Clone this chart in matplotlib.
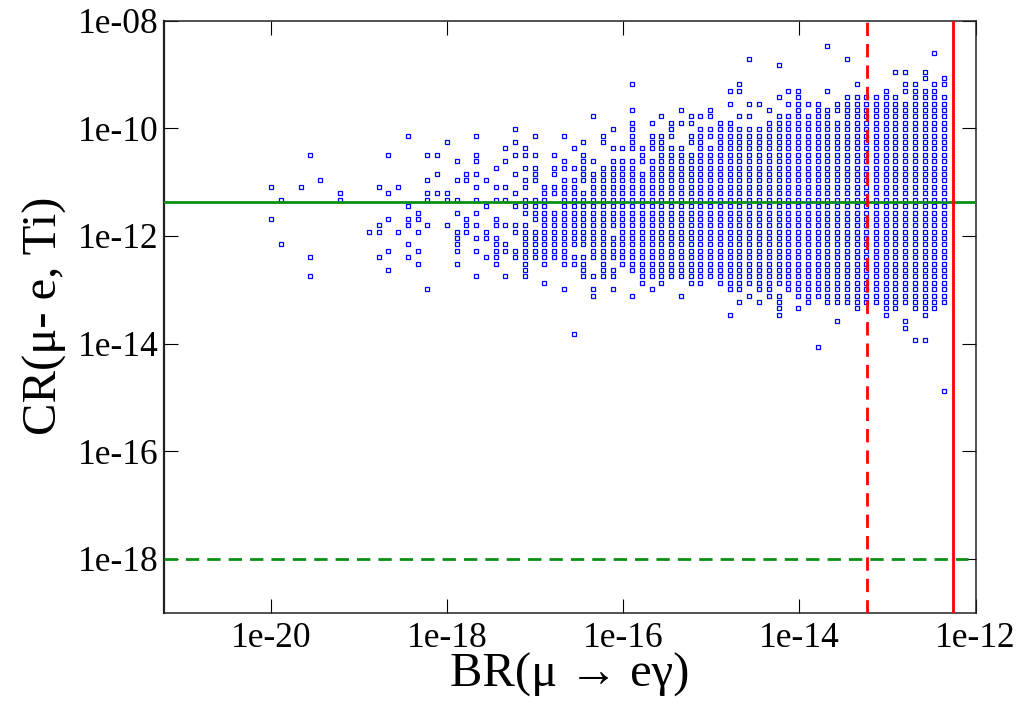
# -*- coding: utf-8 -*-
import matplotlib
matplotlib.use('Agg')
import matplotlib.pyplot as plt
from matplotlib.ticker import FixedLocator, FixedFormatter, NullLocator

plt.rcParams['font.family'] = ['Liberation Serif', 'DejaVu Serif']

# log10 of the BR(mu -> e gamma) columns the scan points fall in
br_exp = [-20.000, -19.889, -19.778, -19.668, -19.557, -19.446, -19.335, -19.224, -19.114, -19.003,
          -18.892, -18.781, -18.670, -18.560, -18.449, -18.338, -18.227, -18.116, -18.006, -17.895,
          -17.784, -17.673, -17.562, -17.452, -17.341, -17.230, -17.119, -17.008, -16.898, -16.787,
          -16.676, -16.565, -16.454, -16.344, -16.233, -16.122, -16.011, -15.900, -15.790, -15.679,
          -15.568, -15.457, -15.346, -15.236, -15.125, -15.014, -14.903, -14.792, -14.682, -14.571,
          -14.460, -14.349, -14.238, -14.128, -14.017, -13.906, -13.795, -13.684, -13.574, -13.463,
          -13.352, -13.241, -13.130, -13.020, -12.909, -12.798, -12.687, -12.576, -12.466, -12.355]

# log10 of CR(mu-e, Ti) for each row, paired with the columns hit in that row
cr_exp = [-8.472, -8.591, -8.710, -8.829, -8.947, -9.066, -9.185, -9.304, -9.423, -9.542,
          -9.660, -9.779, -9.898, -10.017, -10.136, -10.255, -10.373, -10.492, -10.611, -10.730,
          -10.849, -10.968, -11.086, -11.205, -11.326, -11.445, -11.564, -11.682, -11.801, -11.920,
          -12.039, -12.158, -12.277, -12.395, -12.514, -12.633, -12.752, -12.871, -12.990, -13.108,
          -13.227, -13.346, -13.465, -13.584, -13.703, -13.821, -13.940, -14.059, -14.876]

hits = ["57", "68", "49,59", "52", "64,65,67", "67,69", "37,48,60,65,66,68,69",
        "47,48,53,54,57,63,65-68", "52,54,59-64,66-69", "47,49,50,53-56,58-69",
        "37,42,45,51,54,56-69", "33,40,43,44,45,48,49,52-57,59-69",
        "37,39,41,42,43,46,47,51-69", "25,35,37,41,44-69",
        "14,21,27,30,34,37,39-41,43-69", "18,25,32,34,37,39,40,43,44,46-69",
        "24,26,31,35-42,44-69", "4,12,16,17,21,25-27,29,32,38,40-69",
        "19,21,24,30,32,33,35-69", "23,26,27,29-32,34-37,39-69",
        "17,20,21,25,27,29,32-69", "5,16,19,20,22,26,27,30-69",
        "0,3,11,13,21,23,24,26,28-31,33-69", "7,12,16,17,18,25,28-69",
        "1,7,16,18,19,21,23,24,26-28,30-69", "14,22,25-28,30-69",
        "15,19,21,26-69", "0,12,14,15,20,23,27-69",
        "11,14,16,18,20,21,23-26,28-69", "10,11,13,15,19,20,22,25-34,36-69",
        "19,21-23,26-69", "1,14,19,23,24,26-69",
        "12,15,19,21,23-30,33-69", "4,11,14,22,23,25-69",
        "15,19,23,26,28,30-32,34,36-69", "12,26,32,34,35,37-69",
        "4,21,24,26,32-35,38-69", "28,38,40,43,44,46-69",
        "16,30,33,35,39,47,48,50,51,53-69", "33,37,42,49,51,52,54-69",
        "48,50,52,55,57-69", "52,54,60,63,64,66,67,68", "47,52,63,67",
        "58,65", "65", "31", "66,67", "56", "69"]

xticks = [1e-20, 1e-18, 1e-16, 1e-14, 1e-12]
xtick_labels = ['1e-20', '1e-18', '1e-16', '1e-14', '1e-12']
yticks = [1e-18, 1e-16, 1e-14, 1e-12, 1e-10, 1e-8]
ytick_labels = ['1e-18', '1e-16', '1e-14', '1e-12', '1e-10', '1e-08']

# experimental limits
br_now = 5.6e-13
br_future = 5.9e-14
cr_now = 4.3e-12
cr_future = 1e-18


def columns(text):
    out = []
    for part in text.split(','):
        if '-' in part:
            a, b = part.split('-')
            out.extend(range(int(a), int(b) + 1))
        else:
            out.append(int(part))
    return out


xs = []
ys = []
for row, text in zip(cr_exp, hits):
    for c in columns(text):
        xs.append(10 ** br_exp[c])
        ys.append(10 ** row)

W, H = 1024, 702
fig = plt.figure(figsize=(W / 100, H / 100), dpi=100)
ax = fig.add_axes([164 / W, 1 - 612.7 / H, (975.5 - 164) / W, (612.7 - 20.7) / H])
ax.set_xscale('log')
ax.set_yscale('log')
ax.set_xlim(10 ** -21.22, 1e-12)
ax.set_ylim(1e-19, 1e-8)

ax.plot(xs, ys, ls='none', marker='s', ms=2.9, mew=0.9, mfc='none', mec='#0000ff', zorder=2)

ax.axhline(cr_now, color='#0b8f14', lw=2.0, zorder=3)
ax.plot([10 ** -21.22, 10 ** -12.09], [cr_future, cr_future], color='#0b8f14', lw=2.0,
        dashes=(4.8, 2.9), zorder=3)
ax.axvline(br_future, color='#ff0000', lw=2.0, dashes=(4.8, 2.9), zorder=4)
ax.axvline(br_now, color='#ff0000', lw=2.0, zorder=4)

for axis, ticks, labels in ((ax.xaxis, xticks, xtick_labels), (ax.yaxis, yticks, ytick_labels)):
    axis.set_major_locator(FixedLocator(ticks))
    axis.set_major_formatter(FixedFormatter(labels))
    axis.set_minor_locator(NullLocator())

ax.tick_params(which='major', direction='in', length=10, width=0.8, color='black',
               top=True, right=True, labelsize=25.5)
ax.tick_params(axis='x', pad=7)
ax.tick_params(axis='y', pad=4)
for s in ax.spines.values():
    s.set_linewidth(1.1)
    s.set_color('#222222')
ax.spines['left'].set_linewidth(1.6)

fig.text(570 / W, 1 - 675 / H, 'BR(\u03bc \u2192 e\u03b3)', fontsize=35, ha='center', va='center')
fig.text(45 / W, 1 - 316 / H, 'CR(\u03bc- e, Ti)', fontsize=35, rotation=90, ha='center', va='center')

fig.savefig('out.png', dpi=100)
